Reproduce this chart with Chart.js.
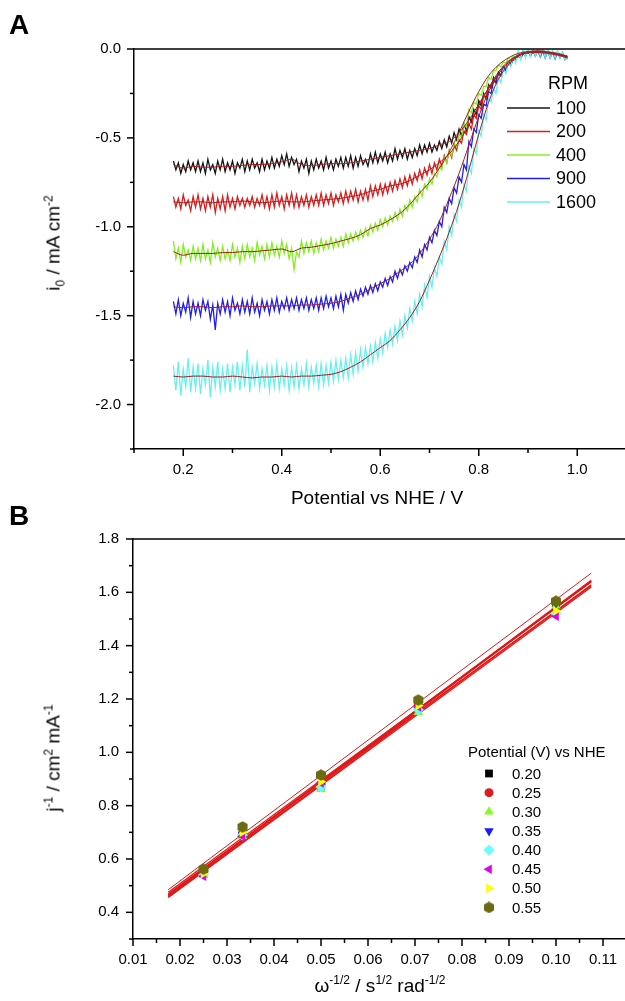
<!DOCTYPE html>
<html><head><meta charset="utf-8">
<script src="https://cdn.jsdelivr.net/npm/chart.js@4.4.1/dist/chart.umd.min.js"></script>
<style>
html,body{margin:0;padding:0;background:#fff;}
#wrap{position:relative;width:625px;height:1001px;overflow:hidden;background:#fff;font-family:"Liberation Sans",Arial,sans-serif;color:#000;}
canvas{position:absolute;left:0;}
.panel{position:absolute;font-weight:bold;font-size:28px;line-height:1;}
.t{position:absolute;font-size:19px;line-height:1;white-space:nowrap;transform:translate(-50%,-50%);}
.t.rot{transform:translate(-50%,-50%) rotate(-90deg);}
.t sup,.t sub{font-size:12px;line-height:0;}
</style></head><body>
<div id="wrap">
<canvas id="chartA" width="650" height="510" style="top:0"></canvas>
<canvas id="chartB" width="650" height="491" style="top:510px"></canvas>
<div class="panel" style="left:9px;top:11px">A</div>
<div class="panel" style="left:9px;top:502px">B</div>
<div class="t rot" style="left:53px;top:243px">i<sub>0</sub> / mA cm<sup>-2</sup></div>
<div class="t" style="left:377px;top:497px">Potential vs NHE / V</div>
<div class="t rot" style="left:53px;top:758px">j<sup>-1</sup> / cm<sup>2</sup> mA<sup>-1</sup></div>
<div class="t" style="left:380px;top:985px">ω<sup>-1/2</sup> / s<sup>1/2</sup> rad<sup>-1/2</sup></div>
</div>
<script>
// ---------------- Panel A data ----------------
const rpmLabels = ['100', '200', '400', '900', '1600'];
const potential = [
0.18,0.185,0.19,0.195,0.2,0.205,0.21,0.215,0.22,0.225,
0.23,0.235,0.24,0.245,0.25,0.255,0.26,0.265,0.27,0.275,
0.28,0.285,0.29,0.295,0.3,0.305,0.31,0.315,0.32,0.325,
0.33,0.335,0.34,0.345,0.35,0.355,0.36,0.365,0.37,0.375,
0.38,0.385,0.39,0.395,0.4,0.405,0.41,0.415,0.42,0.425,
0.43,0.435,0.44,0.445,0.45,0.455,0.46,0.465,0.47,0.475,
0.48,0.485,0.49,0.495,0.5,0.505,0.51,0.515,0.52,0.525,
0.53,0.535,0.54,0.545,0.55,0.555,0.56,0.565,0.57,0.575,
0.58,0.585,0.59,0.595,0.6,0.605,0.61,0.615,0.62,0.625,
0.63,0.635,0.64,0.645,0.65,0.655,0.66,0.665,0.67,0.675,
0.68,0.685,0.69,0.695,0.7,0.705,0.71,0.715,0.72,0.725,
0.73,0.735,0.74,0.745,0.75,0.755,0.76,0.765,0.77,0.775,
0.78,0.785,0.79,0.795,0.8,0.805,0.81,0.815,0.82,0.825,
0.83,0.835,0.84,0.845,0.85,0.855,0.86,0.865,0.87,0.875,
0.88,0.885,0.89,0.895,0.9,0.905,0.91,0.915,0.92,0.925,
0.93,0.935,0.94,0.945,0.95,0.955,0.96,0.965,0.97,0.975,
0.98];
const i100 = [
-0.63,-0.68,-0.64,-0.70,-0.65,-0.69,-0.63,-0.68,-0.64,-0.69,
-0.63,-0.69,-0.64,-0.70,-0.62,-0.68,-0.65,-0.70,-0.63,-0.68,
-0.62,-0.69,-0.64,-0.68,-0.63,-0.70,-0.64,-0.67,-0.62,-0.69,
-0.63,-0.68,-0.62,-0.67,-0.64,-0.69,-0.62,-0.68,-0.63,-0.67,
-0.61,-0.67,-0.62,-0.66,-0.60,-0.65,-0.59,-0.66,-0.61,-0.65,
-0.62,-0.69,-0.63,-0.67,-0.62,-0.70,-0.63,-0.68,-0.62,-0.67,
-0.63,-0.68,-0.61,-0.67,-0.63,-0.68,-0.62,-0.66,-0.61,-0.67,
-0.61,-0.66,-0.60,-0.67,-0.61,-0.66,-0.60,-0.65,-0.62,-0.66,
-0.59,-0.64,-0.58,-0.64,-0.59,-0.63,-0.58,-0.64,-0.59,-0.63,
-0.56,-0.62,-0.57,-0.61,-0.56,-0.62,-0.57,-0.61,-0.56,-0.60,
-0.54,-0.59,-0.54,-0.58,-0.53,-0.58,-0.54,-0.57,-0.52,-0.56,
-0.51,-0.55,-0.49,-0.53,-0.47,-0.51,-0.45,-0.49,-0.42,-0.46,
-0.38,-0.41,-0.34,-0.37,-0.29,-0.32,-0.25,-0.28,-0.20,-0.22,
-0.16,-0.19,-0.13,-0.15,-0.10,-0.12,-0.08,-0.09,-0.06,-0.06,
-0.04,-0.05,-0.03,-0.03,-0.02,-0.03,-0.02,-0.02,-0.015,-0.02,
-0.015,-0.02,-0.02,-0.025,-0.02,-0.03,-0.025,-0.035,-0.03,-0.04,
-0.045];
const i200 = [
-0.83,-0.89,-0.84,-0.90,-0.82,-0.88,-0.85,-0.91,-0.83,-0.89,
-0.82,-0.90,-0.84,-0.91,-0.83,-0.89,-0.82,-0.92,-0.84,-0.90,
-0.83,-0.91,-0.82,-0.89,-0.84,-0.90,-0.83,-0.88,-0.84,-0.89,
-0.84,-0.88,-0.83,-0.89,-0.84,-0.88,-0.82,-0.89,-0.83,-0.90,
-0.82,-0.89,-0.81,-0.88,-0.83,-0.90,-0.82,-0.88,-0.81,-0.89,
-0.82,-0.89,-0.83,-0.88,-0.82,-0.89,-0.83,-0.88,-0.82,-0.88,
-0.81,-0.88,-0.82,-0.87,-0.81,-0.88,-0.82,-0.86,-0.81,-0.87,
-0.80,-0.86,-0.80,-0.85,-0.79,-0.86,-0.80,-0.85,-0.79,-0.85,
-0.77,-0.83,-0.77,-0.82,-0.76,-0.82,-0.76,-0.81,-0.75,-0.80,
-0.74,-0.79,-0.73,-0.78,-0.72,-0.77,-0.71,-0.76,-0.70,-0.74,
-0.68,-0.73,-0.67,-0.71,-0.65,-0.70,-0.64,-0.68,-0.62,-0.66,
-0.60,-0.64,-0.57,-0.61,-0.54,-0.57,-0.51,-0.53,-0.46,-0.48,
-0.42,-0.45,-0.37,-0.39,-0.32,-0.34,-0.26,-0.28,-0.21,-0.22,
-0.17,-0.18,-0.14,-0.15,-0.11,-0.11,-0.08,-0.08,-0.06,-0.05,
-0.04,-0.04,-0.03,-0.03,-0.02,-0.02,-0.015,-0.015,-0.01,-0.015,
-0.01,-0.015,-0.015,-0.02,-0.02,-0.025,-0.025,-0.03,-0.035,-0.04,
-0.045];
const i400 = [
-1.08,-1.18,-1.12,-1.20,-1.10,-1.17,-1.13,-1.19,-1.11,-1.18,
-1.12,-1.19,-1.10,-1.18,-1.13,-1.20,-1.09,-1.17,-1.12,-1.19,
-1.11,-1.18,-1.13,-1.19,-1.10,-1.17,-1.12,-1.20,-1.11,-1.18,
-1.10,-1.17,-1.12,-1.19,-1.09,-1.16,-1.11,-1.18,-1.10,-1.17,
-1.09,-1.16,-1.11,-1.17,-1.08,-1.15,-1.10,-1.18,-1.12,-1.24,
-1.14,-1.17,-1.08,-1.15,-1.09,-1.14,-1.08,-1.15,-1.09,-1.14,
-1.07,-1.13,-1.08,-1.12,-1.06,-1.12,-1.07,-1.11,-1.06,-1.11,
-1.04,-1.09,-1.04,-1.08,-1.03,-1.07,-1.02,-1.06,-1.01,-1.05,
-0.99,-1.03,-0.98,-1.02,-0.96,-1.00,-0.95,-0.99,-0.94,-0.97,
-0.92,-0.96,-0.90,-0.94,-0.88,-0.91,-0.85,-0.89,-0.83,-0.86,
-0.79,-0.83,-0.76,-0.79,-0.73,-0.76,-0.70,-0.72,-0.66,-0.68,
-0.61,-0.64,-0.57,-0.60,-0.53,-0.55,-0.48,-0.50,-0.42,-0.44,
-0.34,-0.36,-0.30,-0.31,-0.25,-0.26,-0.21,-0.21,-0.16,-0.17,
-0.12,-0.12,-0.09,-0.10,-0.07,-0.08,-0.05,-0.06,-0.04,-0.05,
-0.02,-0.04,-0.01,-0.03,-0.005,-0.03,-0.005,-0.03,-0.01,-0.03,
-0.01,-0.035,-0.01,-0.04,-0.02,-0.04,-0.02,-0.045,-0.03,-0.05,
-0.04];
const i900 = [
-1.42,-1.49,-1.41,-1.50,-1.43,-1.48,-1.40,-1.51,-1.42,-1.49,
-1.43,-1.50,-1.41,-1.47,-1.42,-1.52,-1.44,-1.58,-1.43,-1.49,
-1.41,-1.48,-1.42,-1.50,-1.40,-1.47,-1.43,-1.49,-1.41,-1.48,
-1.42,-1.49,-1.40,-1.48,-1.43,-1.50,-1.41,-1.47,-1.42,-1.49,
-1.41,-1.47,-1.40,-1.48,-1.42,-1.46,-1.40,-1.47,-1.41,-1.46,
-1.40,-1.47,-1.41,-1.46,-1.40,-1.47,-1.41,-1.46,-1.40,-1.47,
-1.40,-1.46,-1.39,-1.45,-1.40,-1.46,-1.39,-1.45,-1.38,-1.47,
-1.38,-1.43,-1.37,-1.42,-1.36,-1.41,-1.35,-1.39,-1.34,-1.38,
-1.33,-1.37,-1.32,-1.36,-1.31,-1.34,-1.29,-1.33,-1.28,-1.31,
-1.25,-1.29,-1.24,-1.27,-1.22,-1.25,-1.20,-1.23,-1.17,-1.20,
-1.13,-1.17,-1.10,-1.13,-1.06,-1.09,-1.02,-1.05,-0.97,-1.00,
-0.89,-0.92,-0.84,-0.87,-0.78,-0.81,-0.72,-0.75,-0.65,-0.68,
-0.52,-0.55,-0.45,-0.47,-0.37,-0.39,-0.31,-0.32,-0.24,-0.25,
-0.18,-0.19,-0.14,-0.15,-0.10,-0.12,-0.07,-0.09,-0.05,-0.06,
-0.03,-0.05,-0.02,-0.04,-0.01,-0.04,-0.01,-0.04,-0.01,-0.045,
-0.01,-0.05,-0.01,-0.05,-0.015,-0.055,-0.02,-0.05,-0.02,-0.06,
-0.05];
const i1600 = [
-1.78,-1.92,-1.76,-1.95,-1.80,-1.90,-1.74,-1.93,-1.79,-1.91,
-1.77,-1.94,-1.80,-1.89,-1.75,-1.96,-1.79,-1.90,-1.76,-1.92,
-1.80,-1.91,-1.77,-1.93,-1.79,-1.89,-1.76,-1.92,-1.78,-1.90,
-1.69,-1.93,-1.79,-1.88,-1.77,-1.91,-1.80,-1.89,-1.78,-1.92,
-1.79,-1.90,-1.77,-1.91,-1.80,-1.89,-1.78,-1.92,-1.79,-1.90,
-1.78,-1.91,-1.80,-1.89,-1.77,-1.90,-1.79,-1.88,-1.78,-1.90,
-1.77,-1.89,-1.78,-1.88,-1.76,-1.87,-1.75,-1.86,-1.75,-1.85,
-1.74,-1.85,-1.72,-1.83,-1.71,-1.81,-1.69,-1.79,-1.68,-1.77,
-1.67,-1.76,-1.65,-1.74,-1.63,-1.71,-1.60,-1.68,-1.58,-1.66,
-1.56,-1.64,-1.53,-1.61,-1.50,-1.57,-1.46,-1.53,-1.42,-1.49,
-1.38,-1.45,-1.33,-1.40,-1.28,-1.34,-1.23,-1.28,-1.17,-1.21,
-1.08,-1.13,-1.00,-1.05,-0.93,-0.97,-0.85,-0.89,-0.76,-0.80,
-0.66,-0.70,-0.56,-0.59,-0.46,-0.49,-0.37,-0.40,-0.28,-0.30,
-0.22,-0.25,-0.16,-0.19,-0.11,-0.14,-0.07,-0.10,-0.04,-0.08,
-0.01,-0.06,0.01,-0.05,0.01,-0.04,0.01,-0.04,0.0,-0.04,
0.01,-0.05,0.0,-0.05,-0.01,-0.05,-0.01,-0.05,-0.02,-0.06,
-0.05];
// smoothed (fitted) traces drawn over each curve
const fitPotential = [0.18,0.2,0.22,0.24,0.26,0.28,0.3,0.32,0.34,0.36,0.38,0.4,0.42,0.44,0.46,0.48,0.5,0.52,0.54,0.56,0.58,0.6,0.62,0.64,0.66,0.68,0.7,0.72,0.74,0.76,0.78,0.8,0.82,0.84,0.86,0.88,0.9,0.92,0.94,0.96,0.98];
const fit100 = [-0.65,-0.67,-0.66,-0.665,-0.665,-0.66,-0.66,-0.655,-0.65,-0.65,-0.645,-0.635,-0.62,-0.65,-0.655,-0.65,-0.645,-0.645,-0.64,-0.63,-0.62,-0.61,-0.60,-0.59,-0.58,-0.57,-0.56,-0.54,-0.52,-0.47,-0.40,-0.31,-0.22,-0.14,-0.08,-0.04,-0.02,-0.015,-0.02,-0.03,-0.045];
const fit200 = [-0.86,-0.865,-0.86,-0.86,-0.865,-0.86,-0.86,-0.855,-0.86,-0.865,-0.86,-0.855,-0.86,-0.86,-0.855,-0.85,-0.845,-0.84,-0.83,-0.82,-0.80,-0.79,-0.77,-0.76,-0.74,-0.71,-0.68,-0.64,-0.59,-0.52,-0.43,-0.32,-0.22,-0.13,-0.07,-0.035,-0.015,-0.01,-0.015,-0.025,-0.04];
const fit400 = [-1.14,-1.16,-1.15,-1.15,-1.15,-1.145,-1.145,-1.14,-1.14,-1.135,-1.13,-1.125,-1.14,-1.12,-1.115,-1.105,-1.095,-1.08,-1.065,-1.045,-1.01,-0.99,-0.96,-0.925,-0.875,-0.81,-0.75,-0.67,-0.58,-0.47,-0.35,-0.24,-0.15,-0.09,-0.05,-0.025,-0.015,-0.015,-0.02,-0.03,-0.04];
const fit900 = [-1.45,-1.455,-1.45,-1.45,-1.455,-1.45,-1.45,-1.445,-1.45,-1.45,-1.445,-1.445,-1.445,-1.44,-1.44,-1.435,-1.43,-1.42,-1.40,-1.38,-1.35,-1.32,-1.29,-1.25,-1.21,-1.15,-1.07,-0.97,-0.84,-0.70,-0.54,-0.38,-0.24,-0.14,-0.075,-0.035,-0.02,-0.02,-0.025,-0.035,-0.05];
const fit1600 = [-1.84,-1.845,-1.84,-1.84,-1.845,-1.845,-1.84,-1.845,-1.85,-1.845,-1.845,-1.84,-1.845,-1.84,-1.84,-1.835,-1.83,-1.815,-1.79,-1.76,-1.72,-1.68,-1.64,-1.58,-1.51,-1.42,-1.30,-1.17,-1.03,-0.87,-0.68,-0.48,-0.30,-0.17,-0.09,-0.04,-0.02,-0.015,-0.02,-0.03,-0.045];
const currentA = [i100, i200, i400, i900, i1600];
const fitsA = [fit100, fit200, fit400, fit900, fit1600];
const colorsA = ['#141414', '#dd1c1c', '#80f020', '#1e1ef0', '#66f0f0'];
const fitColorA = '#a51d1d';

// ---------------- Panel B data ----------------
const omegaInvSqrt = [0.025, 0.0333, 0.05, 0.0707, 0.1];
const potentialLabels = ['0.20', '0.25', '0.30', '0.35', '0.40', '0.45', '0.50', '0.55'];
const j020 = [0.545, 0.690, 0.875, 1.170, 1.555];
const j025 = [0.550, 0.695, 0.880, 1.175, 1.560];
const j030 = [0.540, 0.685, 0.862, 1.150, 1.550];
const j035 = [0.545, 0.690, 0.877, 1.165, 1.560];
const j040 = [0.540, 0.690, 0.870, 1.160, 1.520];
const j045 = [0.535, 0.685, 0.885, 1.170, 1.510];
const j050 = [0.545, 0.700, 0.890, 1.175, 1.530];
const j055 = [0.562, 0.720, 0.915, 1.196, 1.567];
const fitOmega = [0.0175, 0.1075];
const line020 = [0.462, 1.640];
const line025 = [0.465, 1.645];
const line030 = [0.458, 1.628];
const line035 = [0.463, 1.642];
const line040 = [0.456, 1.620];
const line045 = [0.470, 1.625];
const line050 = [0.475, 1.640];
const line055 = [0.485, 1.672];
const jB = [j020, j025, j030, j035, j040, j045, j050, j055];
const linesB = [line020, line025, line030, line035, line040, line045, line050, line055];
const colorsB = ['#000000', '#e01b1b', '#80ff1a', '#1a1aff', '#66ffff', '#e000f0', '#ffff00', '#6b6b12'];

// hexagon marker
const hex = document.createElement('canvas');
hex.width = 12; hex.height = 12;
(function () {
  const c = hex.getContext('2d');
  c.fillStyle = colorsB[7];
  c.beginPath();
  for (let k = 0; k < 6; k++) {
    const ang = Math.PI / 6 + k * Math.PI / 3;
    const px = 6 + 5.8 * Math.cos(ang), py = 6 + 5.8 * Math.sin(ang);
    if (k === 0) c.moveTo(px, py); else c.lineTo(px, py);
  }
  c.closePath(); c.fill();
})();
const stylesB = [
  {pointStyle: 'rect', rotation: 0, radius: 5.5},
  {pointStyle: 'circle', rotation: 0, radius: 4.5},
  {pointStyle: 'triangle', rotation: 0, radius: 5.5},
  {pointStyle: 'triangle', rotation: 180, radius: 5.5},
  {pointStyle: 'rectRot', rotation: 0, radius: 5.5},
  {pointStyle: 'triangle', rotation: 270, radius: 5.5},
  {pointStyle: 'triangle', rotation: 90, radius: 5.5},
  {pointStyle: hex, rotation: 0, radius: 6}
];

Chart.defaults.font.family = '"Liberation Sans", Arial, sans-serif';
Chart.defaults.color = '#000';

function frameTicks(xMajor, yMajor) {
  return {
    id: 'frameTicks',
    afterDraw(chart) {
      const ctx = chart.ctx, a = chart.chartArea, xs = chart.scales.x, ys = chart.scales.y;
      ctx.save();
      ctx.strokeStyle = '#000'; ctx.lineWidth = 1.5;
      ctx.beginPath(); ctx.moveTo(a.left, a.top); ctx.lineTo(chart.width, a.top); ctx.stroke();
      xs.ticks.forEach(t => {
        const p = xs.getPixelForValue(t.value), l = xMajor(t.value) ? 7 : 4;
        ctx.beginPath(); ctx.moveTo(p, a.bottom); ctx.lineTo(p, a.bottom + l); ctx.stroke();
      });
      ys.ticks.forEach(t => {
        const p = ys.getPixelForValue(t.value), l = yMajor(t.value) ? 7 : 4;
        ctx.beginPath(); ctx.moveTo(a.left, p); ctx.lineTo(a.left - l, p); ctx.stroke();
      });
      ctx.restore();
    }
  };
}

function drawMarker(ctx, st, x, y, color) {
  ctx.save();
  ctx.fillStyle = color; ctx.strokeStyle = color;
  if (Chart.helpers && Chart.helpers.drawPoint) {
    Chart.helpers.drawPoint(ctx, {pointStyle: st.pointStyle, rotation: st.rotation, radius: st.radius, borderWidth: 0}, x, y);
  } else {
    ctx.beginPath(); ctx.arc(x, y, st.radius, 0, Math.PI * 2); ctx.fill();
  }
  ctx.restore();
}

// ---------- Chart A ----------
const aXMajor = v => Math.round(v * 10) % 2 === 0 && v < 1.05;
const aYMajor = v => Math.round(v * 4) % 2 === 0;
const legendA = {
  id: 'legendA',
  afterDraw(chart) {
    const ctx = chart.ctx;
    ctx.save();
    ctx.font = '18px "Liberation Sans", Arial, sans-serif';
    ctx.fillStyle = '#000'; ctx.textBaseline = 'middle'; ctx.textAlign = 'left';
    ctx.fillText('RPM', 548, 84);
    rpmLabels.forEach((lab, i) => {
      const y = 108 + i * 23.5;
      ctx.strokeStyle = colorsA[i]; ctx.lineWidth = 1.5;
      ctx.beginPath(); ctx.moveTo(507, y); ctx.lineTo(550, y); ctx.stroke();
      ctx.fillText(lab, 556, y + 1);
    });
    ctx.restore();
  }
};
const dsA = [];
currentA.forEach((arr, i) => {
  dsA.push({
    label: rpmLabels[i],
    data: potential.map((p, k) => ({x: p, y: arr[k]})),
    borderColor: colorsA[i], borderWidth: 1.3, pointRadius: 0, showLine: true, tension: 0,
    order: 5 - i
  });
});
fitsA.forEach((arr, i) => {
  dsA.push({
    label: 'fit ' + rpmLabels[i],
    data: fitPotential.map((p, k) => ({x: p, y: arr[k]})),
    borderColor: fitColorA, borderWidth: 1, pointRadius: 0, showLine: true,
    cubicInterpolationMode: 'monotone', order: 0
  });
});
new Chart(document.getElementById('chartA'), {
  type: 'scatter',
  data: {datasets: dsA},
  options: {
    responsive: false, animation: false, devicePixelRatio: 1,
    layout: {padding: {left: 0, top: 49, right: 23.5, bottom: 0}},
    plugins: {legend: {display: false}, tooltip: {enabled: false}},
    scales: {
      x: {
        type: 'linear', min: 0.1, max: 1.1,
        afterFit: s => { s.height = 61; },
        grid: {display: false, drawTicks: false},
        border: {display: true, color: '#000', width: 1.5},
        ticks: {stepSize: 0.1, autoSkip: false, maxRotation: 0, padding: 12, font: {size: 15},
          callback: v => aXMajor(v) ? v.toFixed(1) : ''}
      },
      y: {
        type: 'linear', min: -2.25, max: 0,
        afterFit: s => { s.width = 134; },
        grid: {display: false, drawTicks: false},
        border: {display: true, color: '#000', width: 1.5},
        ticks: {stepSize: 0.25, autoSkip: false, padding: 13, font: {size: 15},
          callback: v => aYMajor(v) ? (Math.abs(v) < 1e-9 ? '0.0' : v.toFixed(1)) : ''}
      }
    }
  },
  plugins: [frameTicks(aXMajor, aYMajor), legendA]
});

// ---------- Chart B ----------
const bXMajor = v => Math.round(v * 1000) % 10 === 0;
const bYMajor = v => Math.round(v * 10) % 2 === 0;
const legendB = {
  id: 'legendB',
  afterDraw(chart) {
    const ctx = chart.ctx;
    ctx.save();
    ctx.font = '15px "Liberation Sans", Arial, sans-serif';
    ctx.fillStyle = '#000'; ctx.textBaseline = 'middle'; ctx.textAlign = 'left';
    ctx.fillText('Potential (V) vs NHE', 468, 243);
    potentialLabels.forEach((lab, i) => {
      const y = 263.5 + i * 19.14;
      drawMarker(ctx, stylesB[i], 489, y, colorsB[i]);
      ctx.fillStyle = '#000';
      ctx.fillText(lab, 512, y + 1);
    });
    ctx.restore();
  }
};
const dsB = [];
linesB.forEach((arr, i) => {
  dsB.push({
    label: 'fit ' + potentialLabels[i],
    data: fitOmega.map((w, k) => ({x: w, y: arr[k]})),
    borderColor: '#e01818', borderWidth: i === 7 ? 1 : 1.3, pointRadius: 0, showLine: true,
    order: 20
  });
});
jB.forEach((arr, i) => {
  dsB.push({
    label: potentialLabels[i],
    data: omegaInvSqrt.map((w, k) => ({x: w, y: arr[k]})),
    backgroundColor: colorsB[i], borderColor: colorsB[i], borderWidth: 0,
    pointStyle: stylesB[i].pointStyle, rotation: stylesB[i].rotation, pointRadius: stylesB[i].radius,
    showLine: false, order: 8 - i
  });
});
new Chart(document.getElementById('chartB'), {
  type: 'scatter',
  data: {datasets: dsB},
  options: {
    responsive: false, animation: false, devicePixelRatio: 1,
    layout: {padding: {left: 0, top: 29, right: 23.5, bottom: 0}},
    plugins: {legend: {display: false}, tooltip: {enabled: false}},
    scales: {
      x: {
        type: 'linear', min: 0.01, max: 0.115,
        afterFit: s => { s.height = 62; },
        grid: {display: false, drawTicks: false},
        border: {display: true, color: '#000', width: 1.5},
        ticks: {stepSize: 0.005, autoSkip: false, maxRotation: 0, padding: 12, font: {size: 15},
          callback: v => bXMajor(v) ? v.toFixed(2) : ''}
      },
      y: {
        type: 'linear', min: 0.3, max: 1.8,
        afterFit: s => { s.width = 133; },
        grid: {display: false, drawTicks: false},
        border: {display: true, color: '#000', width: 1.5},
        ticks: {stepSize: 0.1, autoSkip: false, padding: 14, font: {size: 15},
          callback: v => bYMajor(v) ? v.toFixed(1) : ''}
      }
    }
  },
  plugins: [frameTicks(bXMajor, bYMajor), legendB]
});
</script>
</body></html>
